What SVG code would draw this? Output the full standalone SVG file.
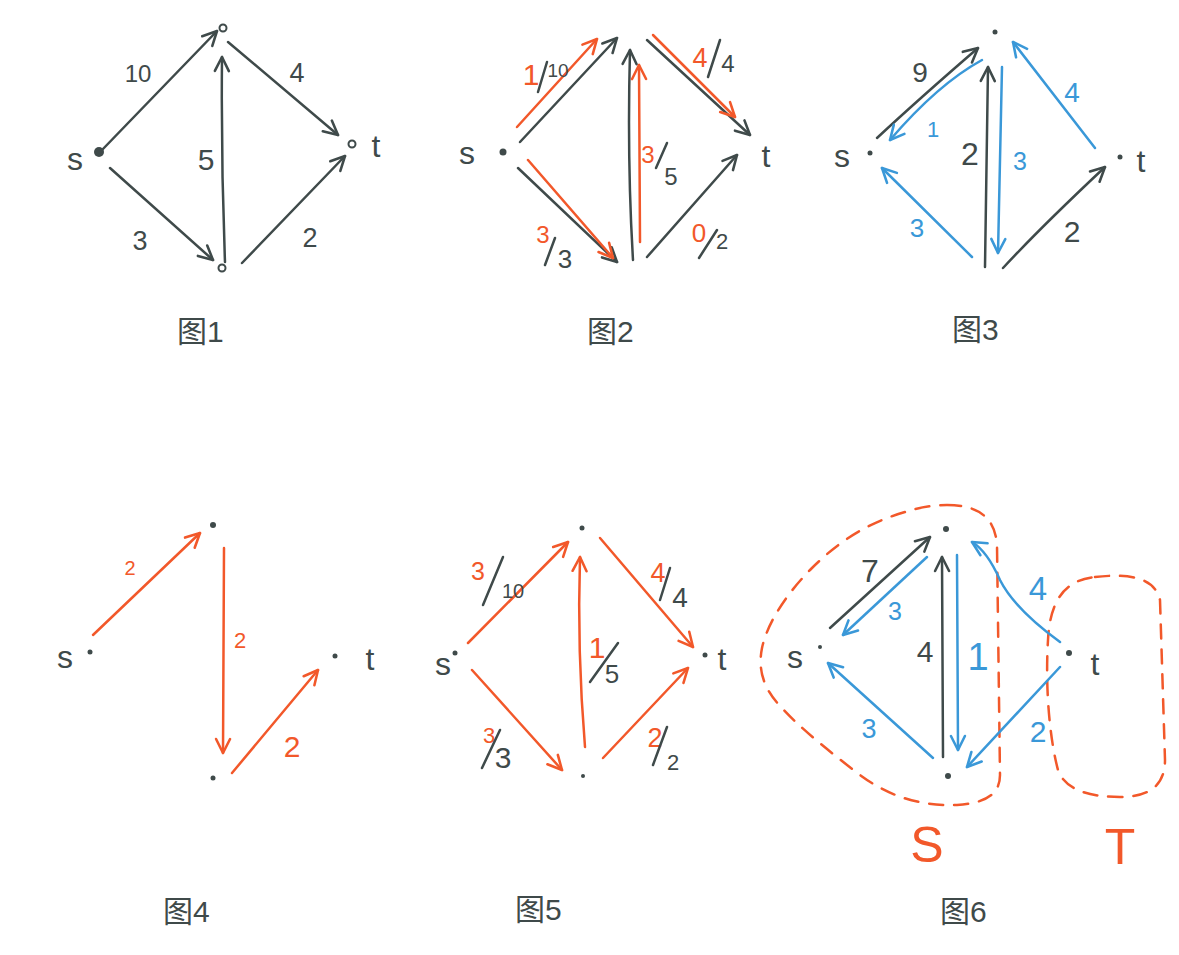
<svg xmlns="http://www.w3.org/2000/svg" width="1179" height="955" viewBox="0 0 1179 955">
<style>
text{font-family:"Liberation Sans","Noto Sans CJK SC",sans-serif;text-anchor:middle}
.g{fill:#3f4a4a}.r{fill:#f2582a}.b{fill:#3a98d8}
.eg{stroke:#3f4a4a;stroke-width:2.5;fill:none;stroke-linecap:round;marker-end:url(#ag)}
.er{stroke:#f2582a;stroke-width:2.5;fill:none;stroke-linecap:round;marker-end:url(#ar)}
.eb{stroke:#3a98d8;stroke-width:2.5;fill:none;stroke-linecap:round;marker-end:url(#ab)}
.sg{stroke:#3f4a4a;stroke-width:2.5;stroke-linecap:round}
.hc{fill:#fff;stroke:#3f4a4a;stroke-width:2}
.cut{fill:none;stroke:#f2582a;stroke-width:2.5;stroke-dasharray:14 11;stroke-linecap:round}
.cap{font-size:30px;fill:#3f4a4a;text-anchor:start}
.lbl{font-size:32px;fill:#3f4a4a}
</style>
<defs>
<marker id="ag" viewBox="0 0 12 12" refX="12" refY="6" markerWidth="14" markerHeight="14" markerUnits="userSpaceOnUse" orient="auto" overflow="visible"><path d="M0,0 L12,6 L0,12" fill="none" stroke="#3f4a4a" stroke-width="2.2" stroke-linecap="round" stroke-linejoin="round"/></marker>
<marker id="ar" viewBox="0 0 12 12" refX="12" refY="6" markerWidth="14" markerHeight="14" markerUnits="userSpaceOnUse" orient="auto" overflow="visible"><path d="M0,0 L12,6 L0,12" fill="none" stroke="#f2582a" stroke-width="2.2" stroke-linecap="round" stroke-linejoin="round"/></marker>
<marker id="ab" viewBox="0 0 12 12" refX="12" refY="6" markerWidth="14" markerHeight="14" markerUnits="userSpaceOnUse" orient="auto" overflow="visible"><path d="M0,0 L12,6 L0,12" fill="none" stroke="#3a98d8" stroke-width="2.2" stroke-linecap="round" stroke-linejoin="round"/></marker>
</defs>
<rect width="1179" height="955" fill="#fff"/>

<!-- Figure 1 -->
<g id="fig1">
<g id="fig1-connectors">
<path class="eg" d="M102 150 L217 31"/>
<path class="eg" d="M228 42 L338 135"/>
<path class="eg" d="M110 168 L213 260"/>
<path class="eg" d="M225 262 Q221 160 222 57"/>
<path class="eg" d="M242 263 L345 156"/>
<text class="g" x="138" y="82" font-size="24">10</text>
<text class="g" x="297" y="82" font-size="27">4</text>
<text class="g" x="206" y="170" font-size="30">5</text>
<text class="g" x="140" y="250" font-size="27">3</text>
<text class="g" x="310" y="247" font-size="27">2</text>
</g>
<g id="fig1-s"><circle cx="99" cy="152" r="5" class="g"/><text class="lbl" x="75" y="170">s</text></g>
<g id="fig1-a"><circle cx="223" cy="28" r="3.5" class="hc"/></g>
<g id="fig1-b"><circle cx="222" cy="268" r="3.5" class="hc"/></g>
<g id="fig1-t"><circle cx="352" cy="144" r="3.5" class="hc"/><text class="lbl" x="376" y="157">t</text></g>
<text class="cap" x="177" y="342">图1</text>
</g>

<!-- Figure 2 -->
<g id="fig2">
<g id="fig2-connectors">
<path class="eg" d="M520 142 L617 38"/>
<path class="er" d="M517 127 L597 39"/>
<path class="eg" d="M647 40 L750 135"/>
<path class="er" d="M653 35 L735 117"/>
<path class="eg" d="M633 260 Q627 160 630 50"/>
<path class="er" d="M640 242 L639 65"/>
<path class="eg" d="M518 168 L617 262"/>
<path class="er" d="M528 160 L613 258"/>
<path class="eg" d="M647 257 L737 155"/>
<text class="r" x="531" y="85" font-size="30">1</text>
<line class="sg" x1="538" y1="92" x2="547" y2="62"/>
<text class="g" x="558" y="77" font-size="19">10</text>
<text class="r" x="700" y="67" font-size="27">4</text>
<line class="sg" x1="708" y1="77" x2="720" y2="40"/>
<text class="g" x="728" y="72" font-size="24">4</text>
<text class="r" x="648" y="163" font-size="24">3</text>
<line class="sg" x1="656" y1="168" x2="667" y2="143"/>
<text class="g" x="671" y="185" font-size="24">5</text>
<text class="r" x="543" y="243" font-size="24">3</text>
<line class="sg" x1="545" y1="265" x2="555" y2="238"/>
<text class="g" x="565" y="268" font-size="26">3</text>
<text class="r" x="699" y="242" font-size="26">0</text>
<line class="sg" x1="699" y1="258" x2="717" y2="230"/>
<text class="g" x="722" y="249" font-size="22">2</text>
</g>
<g id="fig2-s"><circle cx="503" cy="152" r="3.5" class="g"/><text class="lbl" x="467" y="164">s</text></g>
<g id="fig2-t"><text class="lbl" x="766" y="167">t</text></g>
<text class="cap" x="587" y="342">图2</text>
</g>

<!-- Figure 3 -->
<g id="fig3">
<g id="fig3-connectors">
<path class="eg" d="M877 138 Q920 98 978 48"/>
<path class="eb" d="M982 60 Q938 84 890 140"/>
<path class="eg" d="M985 267 L988 67"/>
<path class="eb" d="M1002 67 L998 253"/>
<path class="eb" d="M1095 148 L1013 42"/>
<path class="eb" d="M972 257 L882 168"/>
<path class="eg" d="M1003 268 Q1040 228 1105 167"/>
<text class="g" x="920" y="82" font-size="28">9</text>
<text class="b" x="933" y="137" font-size="22">1</text>
<text class="g" x="970" y="165" font-size="32">2</text>
<text class="b" x="1020" y="170" font-size="25">3</text>
<text class="b" x="1072" y="102" font-size="28">4</text>
<text class="b" x="917" y="237" font-size="26">3</text>
<text class="g" x="1072" y="242" font-size="30">2</text>
</g>
<g id="fig3-a"><circle cx="995" cy="32" r="2.5" class="g"/></g>
<g id="fig3-s"><circle cx="870" cy="153" r="2.5" class="g"/><text class="lbl" x="842" y="167">s</text></g>
<g id="fig3-t"><circle cx="1120" cy="157" r="2.5" class="g"/><text class="lbl" x="1141" y="172">t</text></g>
<text class="cap" x="952" y="340">图3</text>
</g>

<!-- Figure 4 -->
<g id="fig4">
<g id="fig4-connectors">
<path class="er" d="M93 635 L200 533"/>
<path class="er" d="M224 548 L223 753"/>
<path class="er" d="M232 773 L318 670"/>
<text class="r" x="130" y="575" font-size="20">2</text>
<text class="r" x="240" y="648" font-size="22">2</text>
<text class="r" x="292" y="757" font-size="30">2</text>
</g>
<g id="fig4-s"><circle cx="90" cy="652" r="2.5" class="g"/><text class="lbl" x="65" y="668">s</text></g>
<g id="fig4-a"><circle cx="213" cy="525" r="3" class="g"/></g>
<g id="fig4-b"><circle cx="213" cy="778" r="2.5" class="g"/></g>
<g id="fig4-t"><circle cx="335" cy="656" r="2.5" class="g"/><text class="lbl" x="370" y="670">t</text></g>
<text class="cap" x="163" y="922">图4</text>
</g>

<!-- Figure 5 -->
<g id="fig5">
<g id="fig5-connectors">
<path class="er" d="M468 643 L568 542"/>
<path class="er" d="M600 538 L693 647"/>
<path class="er" d="M585 747 Q577 650 580 557"/>
<path class="er" d="M472 670 L562 770"/>
<path class="er" d="M603 758 L688 668"/>
<text class="r" x="478" y="580" font-size="25">3</text>
<line class="sg" x1="483" y1="605" x2="503" y2="557"/>
<text class="g" x="513" y="598" font-size="20">10</text>
<text class="r" x="658" y="582" font-size="27">4</text>
<line class="sg" x1="660" y1="600" x2="670" y2="568"/>
<text class="g" x="680" y="607" font-size="28">4</text>
<text class="r" x="597" y="658" font-size="30">1</text>
<line class="sg" x1="590" y1="682" x2="618" y2="643"/>
<text class="g" x="612" y="683" font-size="26">5</text>
<text class="r" x="489" y="743" font-size="22">3</text>
<line class="sg" x1="482" y1="768" x2="500" y2="730"/>
<text class="g" x="503" y="768" font-size="30">3</text>
<text class="r" x="655" y="747" font-size="27">2</text>
<line class="sg" x1="653" y1="765" x2="667" y2="727"/>
<text class="g" x="673" y="770" font-size="22">2</text>
</g>
<g id="fig5-s"><circle cx="455" cy="653" r="2.5" class="g"/><text class="lbl" x="443" y="675">s</text></g>
<g id="fig5-a"><circle cx="582" cy="528" r="2.5" class="g"/></g>
<g id="fig5-b"><circle cx="583" cy="776" r="2" class="g"/></g>
<g id="fig5-t"><circle cx="705" cy="655" r="2.5" class="g"/><text class="lbl" x="722" y="670">t</text></g>
<text class="cap" x="515" y="920">图5</text>
</g>

<!-- Figure 6 -->
<g id="fig6">
<g id="fig6-cut">
<path class="cut" d="M947 505 C975 505 995 515 997 545 L1000 775 C1000 795 985 803 957 805 C920 806 890 797 860 775 C830 752 800 728 782 708 C762 688 758 668 762 648 C768 620 790 590 812 568 C840 540 870 522 905 512 C920 507 935 505 947 505 Z"/>
<path class="cut" d="M1095 577 C1130 573 1155 578 1160 600 L1165 760 C1165 785 1150 797 1120 797 C1090 797 1065 790 1058 770 C1050 740 1045 690 1048 640 C1050 600 1065 580 1095 577 Z"/>
<text class="r" x="927" y="862" font-size="50">S</text>
<text class="r" x="1120" y="864" font-size="50">T</text>
</g>
<g id="fig6-connectors">
<path class="eg" d="M830 628 L930 537"/>
<path class="eb" d="M927 557 L843 635"/>
<path class="eg" d="M943 757 L942 557"/>
<path class="eb" d="M957 555 L958 750"/>
<path class="eb" d="M1060 642 C1030 620 1010 600 1000 580 C992 562 982 548 972 542"/>
<path class="eb" d="M933 758 L828 663"/>
<path class="eb" d="M1060 667 L967 767"/>
<text class="g" x="870" y="582" font-size="32">7</text>
<text class="b" x="895" y="620" font-size="25">3</text>
<text class="g" x="925" y="662" font-size="30">4</text>
<text class="b" x="978" y="670" font-size="38">1</text>
<text class="b" x="1038" y="600" font-size="33">4</text>
<text class="b" x="869" y="738" font-size="27">3</text>
<text class="b" x="1038" y="742" font-size="30">2</text>
</g>
<g id="fig6-s"><circle cx="820" cy="647" r="2" class="g"/><text class="lbl" x="795" y="668">s</text></g>
<g id="fig6-a"><circle cx="946" cy="529" r="3" class="g"/></g>
<g id="fig6-b"><circle cx="948" cy="776" r="3" class="g"/></g>
<g id="fig6-t"><circle cx="1069" cy="653" r="3" class="g"/><text class="lbl" x="1095" y="675">t</text></g>
<text class="cap" x="940" y="922">图6</text>
</g>
</svg>
